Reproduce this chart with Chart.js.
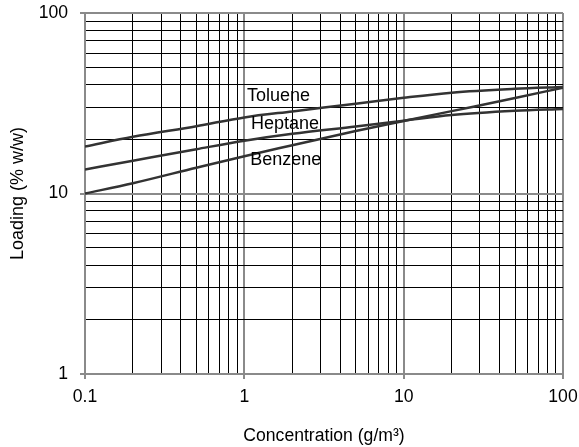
<!DOCTYPE html>
<html>
<head>
<meta charset="utf-8">
<script src="https://cdn.jsdelivr.net/npm/chart.js@4.4.1/dist/chart.umd.min.js"></script>
<style>
  html, body { margin: 0; padding: 0; background: #fff; }
  #wrap { width: 579px; height: 447px; }
</style>
</head>
<body>
<div id="wrap"><canvas id="c"></canvas></div>
<script>
// concentração (g/m³) e carga (% w/w)
const concentration = [0.1, 0.2, 0.5, 1, 2, 5, 10, 20, 50, 100];
const toluene = [18.2, 20.6, 23.6, 26.4, 28.5, 31.4, 33.9, 36.2, 38.0, 38.9];
const heptane = [13.6, 15.2, 17.6, 19.6, 21.4, 23.5, 25.3, 27.2, 28.7, 29.4];
const benzene = [10.0, 11.4, 13.9, 16.1, 18.5, 22.2, 25.2, 28.6, 33.8, 38.6];

const seriesNames = ["Toluene", "Heptane", "Benzene"];
const xDecades = [0.1, 1, 10, 100];
const yDecades = [1, 10, 100];
const steps = [1, 2, 3, 4, 5, 6, 7, 8, 9];

// onde cada rótulo de curva fica (coordenadas de dados)
const labelAt = [
  { x: 1.04, y: 34.5 },
  { x: 1.1, y: 24.4 },
  { x: 1.09, y: 15.4 },
];

const LINE = "#333333";
const MAJOR = "#8a8a8a";
const FONT = "'Liberation Sans', Arial, sans-serif";

Chart.defaults.font.family = FONT;
Chart.defaults.font.size = 17.6;
Chart.defaults.color = "#000";

function buildTicks(decades) {
  const out = [];
  decades.forEach((d, i) => {
    if (i === decades.length - 1) {
      out.push({ value: d, major: true });
      return;
    }
    steps.forEach((s) => out.push({ value: d * s, major: s === 1 }));
  });
  return out;
}

const curveLabels = {
  id: "curveLabels",
  afterDatasetsDraw(chart) {
    const { ctx, scales } = chart;
    ctx.save();
    ctx.font = "18px " + FONT;
    ctx.fillStyle = "#000";
    ctx.textAlign = "left";
    ctx.textBaseline = "middle";
    seriesNames.forEach((name, i) => {
      ctx.fillText(name, scales.x.getPixelForValue(labelAt[i].x), scales.y.getPixelForValue(labelAt[i].y));
    });
    ctx.restore();
  },
};

const toPoints = (arr) => arr.map((v, i) => ({ x: concentration[i], y: v }));

const lineDs = (label, arr) => ({
  label,
  data: toPoints(arr),
  borderColor: LINE,
  borderWidth: 2.5,
  pointRadius: 0,
  fill: false,
  cubicInterpolationMode: "monotone",
});

const gridOpts = {
  color: (c) => (c.tick && c.tick.major ? MAJOR : "#000"),
  lineWidth: (c) => (c.tick && c.tick.major ? 2 : 1),
  tickColor: (c) => (c.tick && c.tick.major ? MAJOR : "rgba(0,0,0,0)"),
  tickLength: 5,
  tickWidth: 2,
};

new Chart(document.getElementById("c"), {
  type: "line",
  data: {
    datasets: [lineDs(seriesNames[0], toluene), lineDs(seriesNames[1], heptane), lineDs(seriesNames[2], benzene)],
  },
  plugins: [curveLabels],
  options: {
    responsive: true,
    maintainAspectRatio: false,
    animation: false,
    layout: { padding: { top: 13, right: 16, left: 0, bottom: 0 } },
    plugins: { legend: { display: false }, tooltip: { enabled: false } },
    scales: {
      x: {
        type: "logarithmic",
        min: 0.1,
        max: 100,
        afterBuildTicks: (s) => { s.ticks = buildTicks(xDecades); },
        afterFit: (s) => {
          s.height = 73;
          s.paddingLeft = 0;
          s.paddingRight = 0;
        },
        grid: gridOpts,
        border: { color: MAJOR, width: 2 },
        ticks: {
          autoSkip: false,
          maxRotation: 0,
          padding: 8,
          callback: (v, i, t) => (t[i].major ? String(v) : ""),
        },
        title: { display: true, text: "Concentration (g/m³)", padding: { top: 0, bottom: 0 } },
      },
      y: {
        type: "logarithmic",
        min: 1,
        max: 100,
        afterBuildTicks: (s) => { s.ticks = buildTicks(yDecades); },
        afterFit: (s) => {
          s.width = 85;
          s.paddingTop = 0;
          s.paddingBottom = 0;
        },
        grid: gridOpts,
        border: { color: MAJOR, width: 2 },
        ticks: {
          autoSkip: false,
          padding: 12,
          callback: (v, i, t) => (t[i].major ? String(v) : ""),
        },
        title: { display: true, text: "Loading (% w/w)", padding: { top: 7, bottom: 0 }, font: { size: 18 } },
      },
    },
  },
});
</script>
</body>
</html>
